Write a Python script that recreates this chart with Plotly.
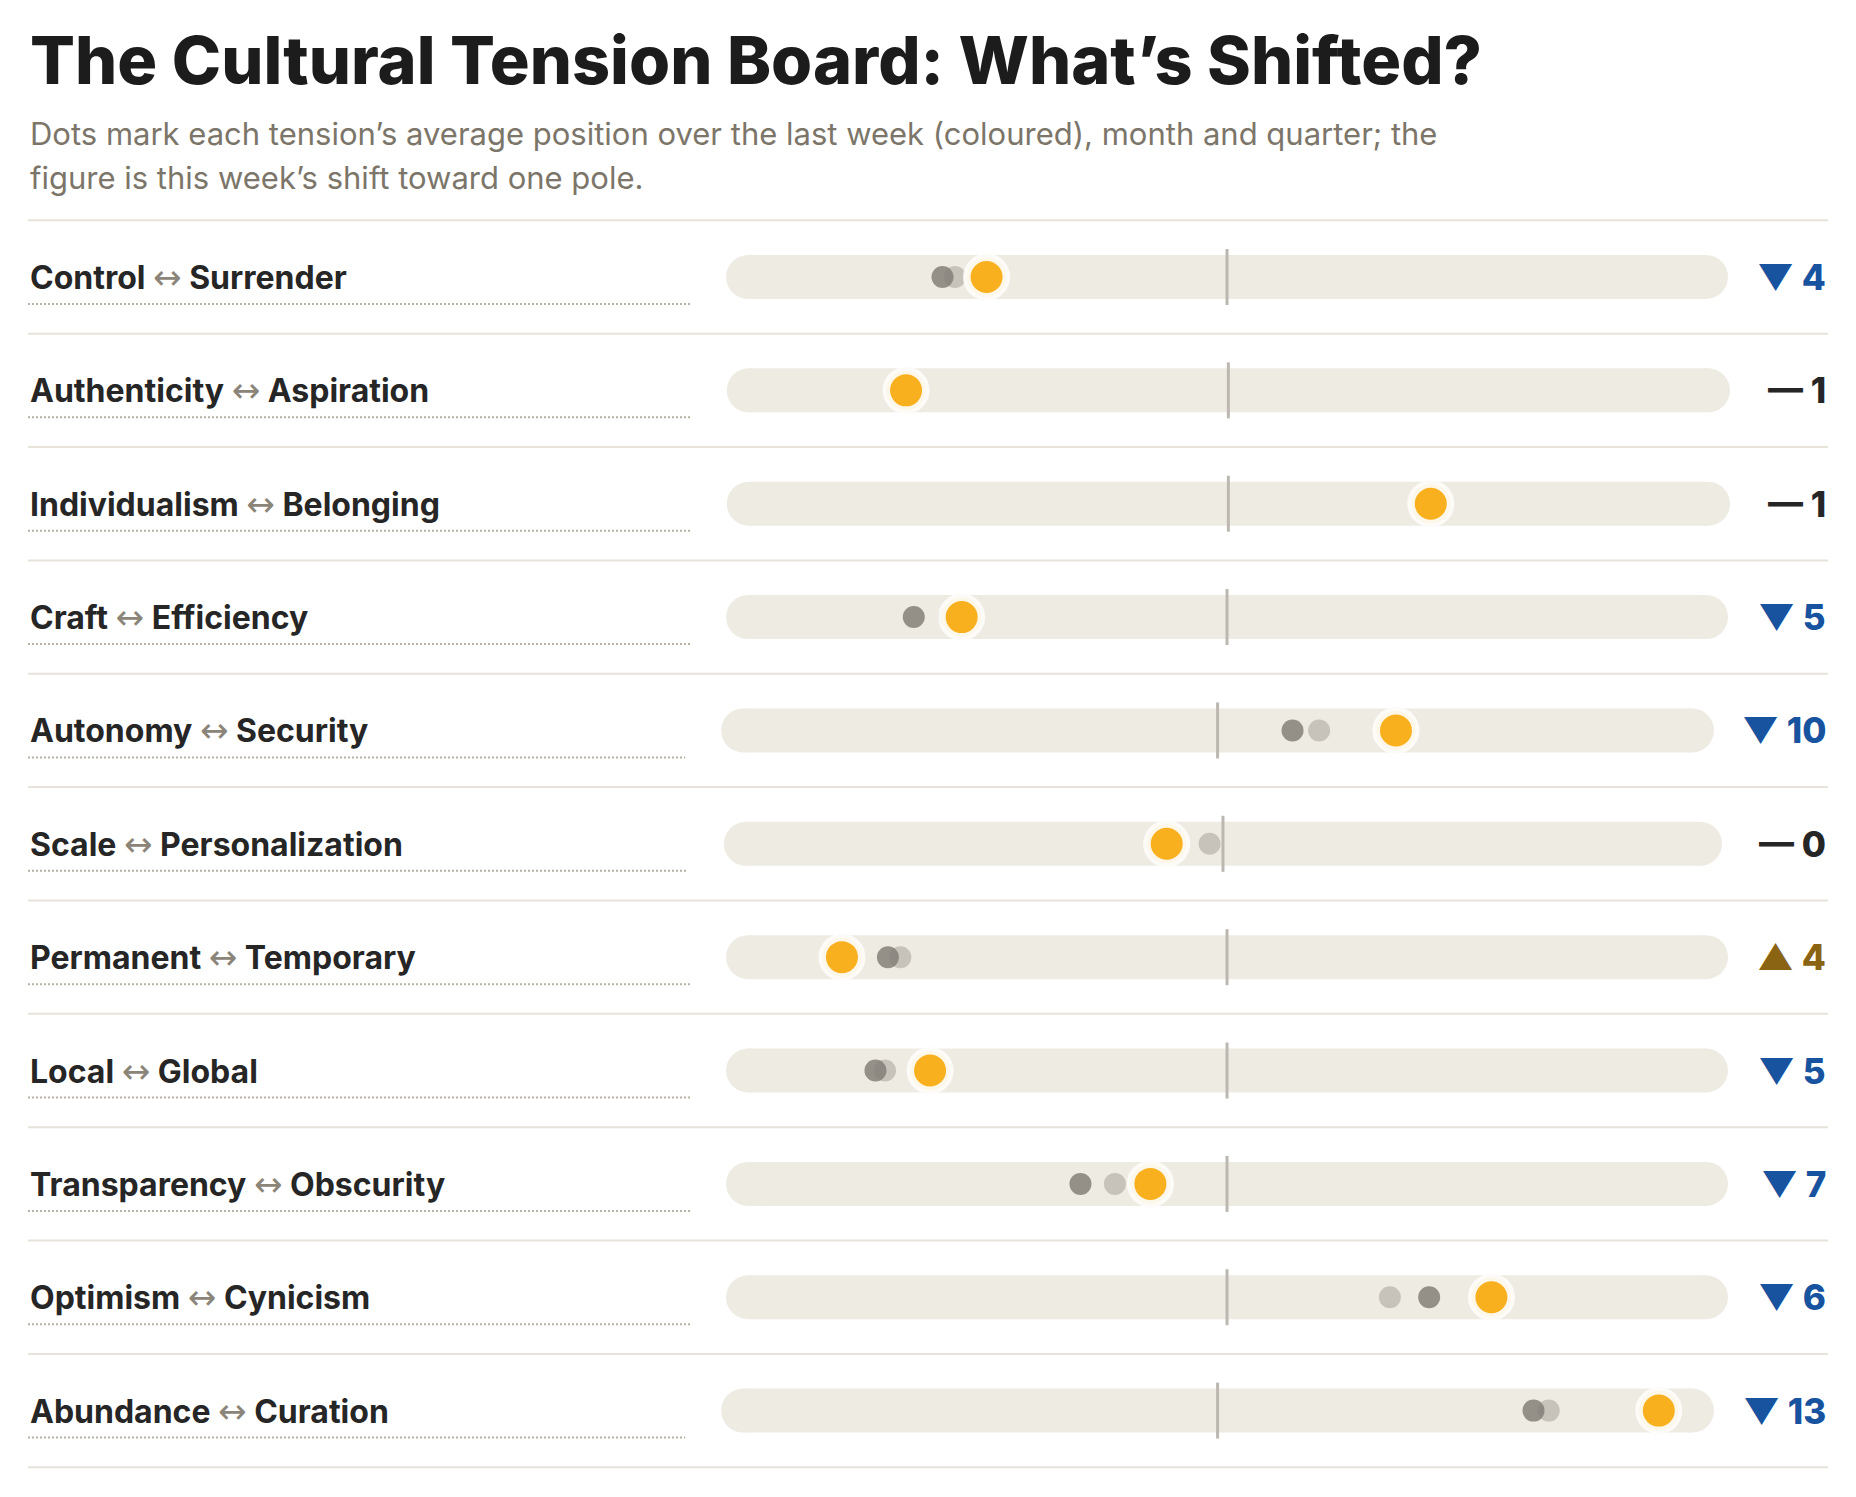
import plotly.graph_objects as go

# tensions (left pole <-> right pole)
left_poles = ["Control", "Authenticity", "Individualism", "Craft", "Autonomy", "Scale",
              "Permanent", "Local", "Transparency", "Optimism", "Abundance"]
right_poles = ["Surrender", "Aspiration", "Belonging", "Efficiency", "Security", "Personalization",
               "Temporary", "Global", "Obscurity", "Cynicism", "Curation"]

# average position on a 0-100 scale (50 = balanced)
week = [24.9, 16.4, 71.1, 22.3, 68.8, 44.1, 9.8, 19.0, 42.0, 77.6, 96.5]
month = [20.3, 15.8, 70.5, 17.3, 57.9, 44.3, 14.6, 13.3, 34.7, 71.1, 83.3]
quarter = [21.6, 16.9, 71.6, 21.0, 60.7, 48.6, 15.9, 14.3, 38.3, 67.0, 84.9]

# this week's shift
arrows = ["▼", "—", "—", "▼", "▼", "—", "▲", "▼", "▼", "▼", "▼"]
shifts = [4, 1, 1, 5, 10, 0, 4, 5, 7, 6, 13]

title = "The Cultural Tension Board: What’s Shifted?"
subtitle = ["Dots mark each tension’s average position over the last week (coloured), month and quarter; the",
            "figure is this week’s shift toward one pole."]

W, H = 1856, 1497
LEFT, RIGHT = 28, 1828
ROW0, STEP = 277, 113.36
TRACK_H = 44
FONT = "Inter, Lato, sans-serif"

TRACK = "#eeebe3"
ORANGE = "#f9b01e"
arrow_color = {"▼": "#17539f", "▲": "#8a6412", "—": "#262626"}


def text_width(s):
    w = {"▼": 24, "▲": 24, "—": 30, " ": 10, "1": 14}
    return sum(w.get(c, 22) for c in s)


n = len(left_poles)
fig = go.Figure()
shapes = []
annotations = []
layout_axes = {}

E0, U0 = 1725, 689
for k in range(n):
    delta = f"{arrows[k]} {shifts[k]}"
    end = RIGHT - 44 - text_width(delta)
    under = U0 + 0.35 * (end - E0)
    start = under + 36
    pad = (TRACK_H / 2) * 100 / (end - start - TRACK_H)

    ax = "x" if k == 0 else f"x{k + 1}"
    key = "xaxis" if k == 0 else f"xaxis{k + 1}"
    layout_axes[key] = dict(domain=[start / W, end / W], range=[-pad, 100 + pad],
                            anchor="y", visible=False, fixedrange=True)

    # track (pill)
    fig.add_trace(go.Scatter(x=[0, 100], y=[k, k], xaxis=ax, yaxis="y", mode="lines+markers",
                             line=dict(color=TRACK, width=TRACK_H),
                             marker=dict(size=TRACK_H, color=TRACK), hoverinfo="skip"))
    # centre tick
    fig.add_trace(go.Scatter(x=[50], y=[k], xaxis=ax, yaxis="y", mode="markers",
                             marker=dict(symbol="line-ns", size=40,
                                         line=dict(width=3, color="#bcb8b1")), hoverinfo="skip"))
    # quarter / month / week
    fig.add_trace(go.Scatter(x=[quarter[k]], y=[k], xaxis=ax, yaxis="y", mode="markers",
                             marker=dict(size=22, color="#c8c3ba"), name="Quarter"))
    fig.add_trace(go.Scatter(x=[month[k]], y=[k], xaxis=ax, yaxis="y", mode="markers",
                             marker=dict(size=22, color="rgba(128,123,116,0.82)"), name="Month"))
    fig.add_trace(go.Scatter(x=[week[k]], y=[k], xaxis=ax, yaxis="y", mode="markers",
                             marker=dict(size=39.5, color=ORANGE,
                                         line=dict(width=7.5, color="rgba(253,252,250,0.93)")),
                             name="Week"))

    # label + dotted underline
    annotations.append(dict(
        xref="paper", x=LEFT / W, yref="y", y=k, xanchor="left", yanchor="middle",
        text=(f"{left_poles[k]} <span style='color:#8b8579;font-weight:400;"
              f"font-family:DejaVu Sans;font-size:34px'>↔</span> {right_poles[k]}"),
        showarrow=False, font=dict(family=FONT, size=32, color="#262626", weight=700)))
    shapes.append(dict(type="line", xref="paper", yref="y", x0=LEFT / W, x1=under / W,
                       y0=k + 27 / STEP, y1=k + 27 / STEP,
                       line=dict(color="#b9b2a4", width=2, dash="2px,2px")))

    # shift figure
    annotations.append(dict(
        xref="paper", x=RIGHT / W, yref="y", y=k, xanchor="right", yanchor="middle",
        text=delta, showarrow=False,
        font=dict(family=FONT, size=35, color=arrow_color[arrows[k]], weight=800)))

# row separators
for k in range(n + 1):
    shapes.append(dict(type="line", xref="paper", yref="y", x0=LEFT / W, x1=RIGHT / W,
                       y0=k - 0.5, y1=k - 0.5, line=dict(color="#e7e3da", width=2), layer="below"))

annotations.append(dict(xref="paper", yref="paper", x=LEFT / W, y=1 - 60 / H,
                        xanchor="left", yanchor="middle", text=title, showarrow=False,
                        font=dict(family=FONT, size=66.5, color="#1c1c1c", weight=800)))
for i, line in enumerate(subtitle):
    annotations.append(dict(xref="paper", yref="paper", x=LEFT / W, y=1 - (134 + 43 * i) / H,
                            xanchor="left", yanchor="middle", text=line, showarrow=False,
                            font=dict(family=FONT, size=31, color="#7c7569", weight=400)))

fig.update_layout(
    width=W, height=H, margin=dict(l=0, r=0, t=0, b=0),
    paper_bgcolor="white", plot_bgcolor="rgba(0,0,0,0)", showlegend=False,
    yaxis=dict(domain=[0, 1], range=[(H - ROW0) / STEP, -ROW0 / STEP],
               visible=False, fixedrange=True),
    shapes=shapes, annotations=annotations, **layout_axes)

fig.write_html("out.html", config={"displayModeBar": False},
               post_script="document.body.style.margin='0';")
